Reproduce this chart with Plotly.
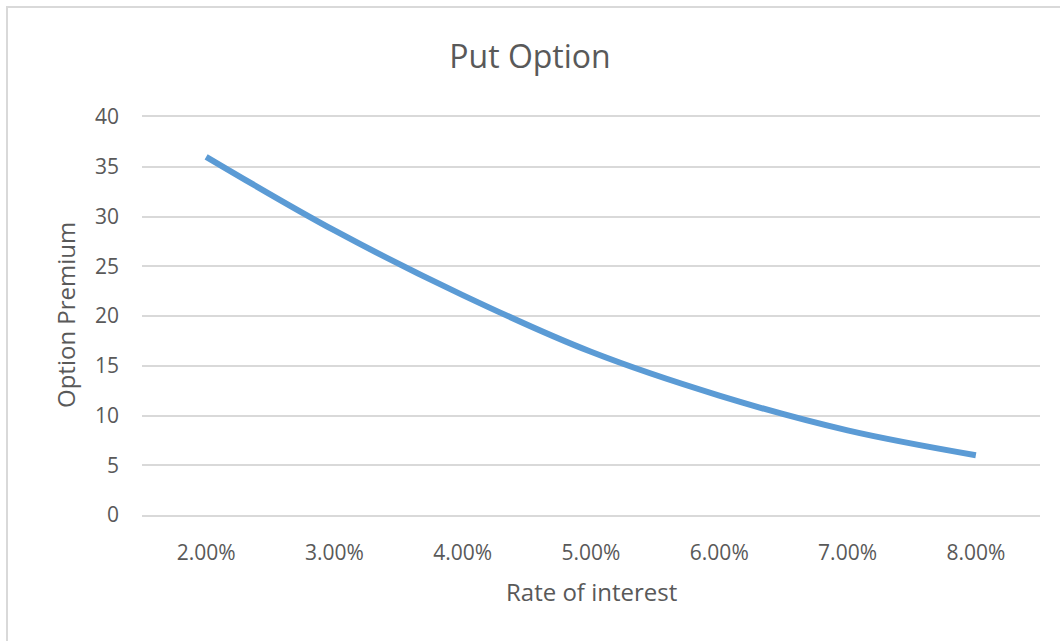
import plotly.graph_objects as go

# Put option premium vs. rate of interest
rates = ["2.00%", "3.00%", "4.00%", "5.00%", "6.00%", "7.00%", "8.00%"]
premium = [36.0, 28.6, 22.1, 16.4, 12.0, 8.5, 6.0]

W, H = 1060, 641
ML, MR, MT, MB = 142, 20, 117, 126
PW, PH = W - ML - MR, H - MT - MB

TEXT = "#595959"
GRID = "#d9d9d9"
FONT = "Open Sans"


def px_to_paper_x(px):
    return (px - ML) / PW


def px_to_paper_y(py):
    return (H - MB - py) / PH


fig = go.Figure()
fig.add_trace(go.Scatter(
    x=rates,
    y=premium,
    mode="lines",
    line=dict(color="#5B9BD5", width=6, shape="spline", smoothing=1.0),
    showlegend=False,
    hoverinfo="x+y",
))

fig.update_layout(
    width=W,
    height=H,
    margin=dict(l=ML, r=MR, t=MT, b=MB),
    paper_bgcolor="white",
    plot_bgcolor="white",
    font=dict(family=FONT, color=TEXT),
    title=dict(
        text="Put Option",
        font=dict(family=FONT, size=32, color=TEXT),
        x=0.5, xref="container", xanchor="center",
        y=1 - 57 / H, yref="container", yanchor="middle",
    ),
    xaxis=dict(
        type="category",
        range=[-0.5, 6.5],
        showgrid=False,
        # bottom line doubles as the 0 gridline, mirrored copy as the 40 gridline
        showline=True,
        mirror=True,
        linecolor=GRID,
        linewidth=2,
        zeroline=False,
        ticks="",
        tickfont=dict(family=FONT, size=21, color=TEXT),
        ticklabelstandoff=18,
    ),
    yaxis=dict(
        range=[0, 40],
        dtick=5,
        showgrid=True,
        gridcolor=GRID,
        gridwidth=2,
        showline=False,
        zeroline=False,
        ticks="",
        tickfont=dict(family=FONT, size=21, color=TEXT),
        ticklabelstandoff=22,
    ),
    shapes=[
        dict(
            type="rect", xref="paper", yref="paper",
            x0=px_to_paper_x(7), x1=px_to_paper_x(W + 10),
            y0=px_to_paper_y(H + 10), y1=px_to_paper_y(7),
            line=dict(color=GRID, width=2),
            fillcolor="rgba(0,0,0,0)",
            layer="below",
        )
    ],
    annotations=[
        dict(
            text="Option Premium",
            xref="paper", yref="paper",
            x=px_to_paper_x(65), y=px_to_paper_y(315),
            xanchor="center", yanchor="middle",
            textangle=-90, showarrow=False,
            font=dict(family=FONT, size=24, color=TEXT),
        ),
        dict(
            text="Rate of interest",
            xref="paper", yref="paper",
            x=px_to_paper_x(591), y=px_to_paper_y(591),
            xanchor="center", yanchor="middle",
            showarrow=False,
            font=dict(family=FONT, size=24, color=TEXT),
        ),
    ],
)

fig.write_html("out.html")
